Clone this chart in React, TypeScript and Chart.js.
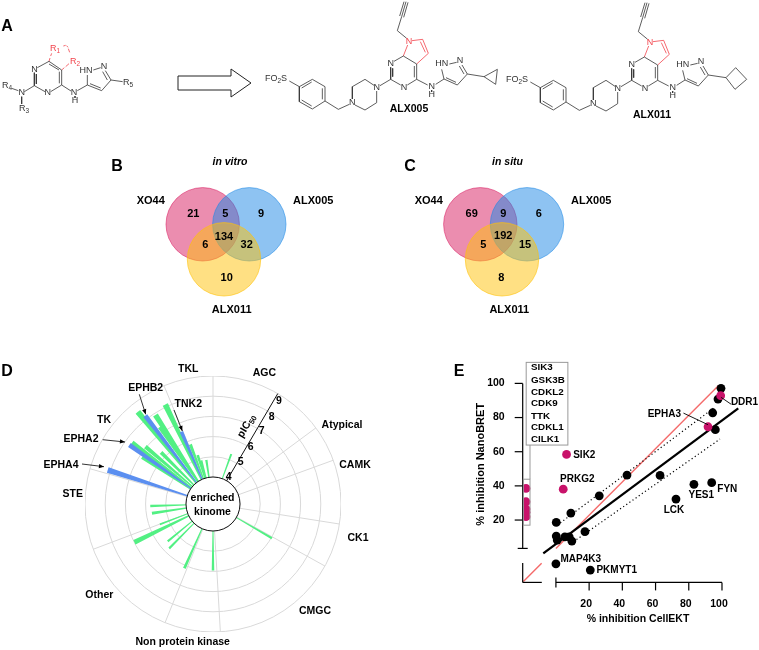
import React, { useEffect, useRef } from "react";
import { Chart, registerables } from "chart.js";
Chart.register(...registerables);

const FONT = '"Liberation Sans", Arial, sans-serif';

// ---------- Panel B / C data
const vennSets = ["XO44", "ALX005", "ALX011"];
const vitroCounts = [21, 5, 9, 134, 6, 32, 10];
const situCounts = [69, 9, 6, 192, 5, 15, 8];

// ---------- Panel D data (angle clockwise from north, pIC50, kind)
const kinomeGroups = ["TKL", "AGC", "Atypical", "CAMK", "CK1", "CMGC", "Non protein kinase", "Other", "STE", "TK"];
const barAngle = [20.1, 120.2, 180, 204, 224.6, 230.5, 244, 249.1, 261.3, 268.2, 287.9, 303.3, 305.2, 307.1, 310.3, 314.8, 320.8, 322.5, 325.7, 327.1, 334.4, 336.4, 339.2, 342.6, 344.8, 351.4];
const barPic50 = [5.3, 6.04, 5.96, 6.15, 5.75, 5.57, 6.99, 5.48, 5.72, 5.77, 8.14, 6.87, 7.73, 7.69, 7.05, 6.29, 8.55, 8.17, 7.3, 7.91, 8.13, 6.57, 5.82, 5.2, 4.9, 4.87];
const barBlue = [0, 0, 0, 0, 0, 0, 0, 0, 0, 0, 1, 0, 1, 0, 0, 0, 0, 1, 0, 0, 0, 1, 0, 0, 0, 0];
const barWidth = [2.2, 1.9, 2.2, 2.3, 2.1, 2.1, 3.3, 1.9, 2.8, 2.4, 3.0, 2.3, 2.6, 2.8, 2.7, 3.0, 2.8, 2.5, 3.2, 3.0, 3.0, 2.6, 2.8, 3.0, 3.0, 3.0];
const groupEdges = [0, 53.5, 70, 99, 119, 176.7, 202, 249.3, 286, 337.5];
const pic50Ticks = [4, 5, 6, 7, 8, 9];

// ---------- Panel E data
const blackCellEKT = [0.2, 9, 26.1, 42.8, 62.7, 17.5, 0.2, 0.8, 5.4, 8, 9.6, 72.3, 83.1, 93.8, 96, 94.4, 97.6, 99.4, 0, 20.7];
const blackNanoBRET = [18.6, 24.1, 34.2, 46.3, 46.1, 13.2, 10.6, 8.3, 10.2, 10.2, 7.7, 32.3, 40.9, 41.9, 72.9, 82.8, 90.8, 97.1, -5.6, -9.3];
const pinkCellEKT = [6.4, 4.4, 91.6, 99.2, -18, -18, -18, -18, -18];
const pinkNanoBRET = [58.4, 38.1, 74.6, 92.8, 38.5, 30.7, 26.4, 24.5, 22];
const boxedKinases = ["SIK3", "GSK3B", "CDKL2", "CDK9", "TTK", "CDKL1", "CILK1"];
const eTicks = [20, 40, 60, 80, 100];

type T = [string, number, number, string?, string?, CanvasTextAlign?, number?];

function drawRich(ctx: CanvasRenderingContext2D, s: string, x: number, y: number, font: string, color = "#000", align: CanvasTextAlign = "center", rot = 0) {
  const size = parseFloat(font.match(/([\d.]+)px/)![1]);
  const subFont = font.replace(/[\d.]+px/, size * 0.72 + "px");
  const parts = s.split("~");
  ctx.save();
  ctx.translate(x, y);
  ctx.rotate((rot * Math.PI) / 180);
  ctx.fillStyle = color;
  ctx.textBaseline = "middle";
  ctx.textAlign = "left";
  let w = 0;
  parts.forEach((p, i) => {
    ctx.font = i % 2 ? subFont : font;
    w += ctx.measureText(p).width;
  });
  let cx = align === "center" ? -w / 2 : align === "right" ? -w : 0;
  parts.forEach((p, i) => {
    ctx.font = i % 2 ? subFont : font;
    ctx.fillText(p, cx, i % 2 ? size * 0.28 : 0);
    cx += ctx.measureText(p).width;
  });
  ctx.restore();
}

const bold = (n: number) => `bold ${n}px ${FONT}`;
const reg = (n: number) => `${n}px ${FONT}`;

// ---------- molecule skeletons (drawing units = 1/3 px)
const coreBlack = [
  [430, 168, 402, 184], [392, 202, 392, 238], [398, 205, 398, 230], [392, 238, 422, 255], [442, 255, 470, 238],
  [470, 238, 470, 192], [463, 232, 463, 198], [470, 192, 430, 168], [440, 115, 412, 92], [412, 92, 425, 50],
  [425, 50, 438, 5], [419, 48, 432, 5], [431, 52, 444, 7], [470, 238, 503, 255], [527, 253, 552, 237], [515, 270, 515, 276],
  [552, 237, 545, 208], [568, 192, 590, 187], [606, 195, 622, 222], [598, 198, 612, 222], [622, 222, 592, 255],
  [592, 255, 552, 237], [588, 247, 558, 233], [392, 238, 360, 257], [342, 256, 315, 238], [315, 238, 277, 260],
  [277, 260, 277, 297], [285, 315, 315, 330], [315, 330, 350, 308], [350, 308, 350, 273], [268, 313, 235, 328],
  [235, 328, 195, 303], [195, 303, 195, 260], [187, 298, 187, 265], [195, 260, 157, 238], [157, 238, 118, 260],
  [155, 246, 125, 264], [118, 260, 118, 305], [118, 305, 157, 327], [125, 300, 155, 318], [157, 327, 195, 303],
  [118, 260, 88, 243],
];
const coreRed = [[430, 168, 443, 135], [456, 122, 488, 118], [488, 118, 505, 160], [481, 125, 496, 157], [505, 160, 470, 192]];
const cyclopropyl = [[622, 222, 672, 230], [672, 230, 712, 208], [712, 208, 707, 253], [707, 253, 672, 230]];
const cyclobutyl = [[622, 222, 675, 230], [675, 230, 704, 200], [704, 200, 737, 235], [737, 235, 702, 265], [702, 265, 675, 230]];
const schemeBlack = [
  [147, 124, 112, 143], [103, 158, 103, 197], [109, 162, 109, 192], [103, 197, 135, 215], [152, 215, 185, 195],
  [185, 195, 185, 150], [178, 190, 178, 155], [185, 150, 147, 124], [177, 150, 147, 132], [185, 195, 213, 213], [232, 212, 262, 195],
  [225, 228, 225, 234], [262, 195, 262, 165], [280, 150, 302, 143], [316, 152, 333, 180], [308, 155, 322, 180], [333, 180, 305, 212],
  [305, 212, 262, 195], [302, 204, 270, 191], [333, 180, 368, 185], [103, 197, 73, 215], [35, 205, 55, 212], [65, 230, 65, 252],
];
const schemeRed = [
  [147, 124, 150, 114], [152, 108, 155, 100], [190, 78, 197, 76], [200, 77, 204, 82], [205, 86, 209, 97], [185, 150, 193, 143], [197, 140, 207, 131],
];
const arrowOutline = [[178, 76], [231, 76], [231, 69], [251, 83], [231, 97], [231, 90], [178, 90], [178, 76]];

function toLine(segs: number[][], ox: number, oy: number) {
  const out: any[] = [];
  segs.forEach((s) => {
    out.push({ x: ox + s[0] / 3, y: oy + s[1] / 3 }, { x: ox + s[2] / 3, y: oy + s[3] / 3 }, { x: null, y: null });
  });
  return out;
}
function lineDs(data: any[], color: string, w = 0.8) {
  return { type: "scatter", showLine: true, data, borderColor: color, borderWidth: w, pointRadius: 0, spanGaps: false, order: 0 };
}

const INK = "#333";
const RED = "#f2444d";
const ATOM = 9;

const moleculeLabels = (ox: number, oy: number): T[] => [
  ["N", 392, 192], ["N", 432, 262], ["N", 350, 263], ["N", 277, 308], ["N", 515, 260], ["H", 515, 285], ["HN", 545, 192], ["N", 600, 183],
].map((a) => [a[0] as string, ox + (a[1] as number) / 3, oy + (a[2] as number) / 3, reg(ATOM), INK] as T);

const pageTexts: T[] = [
  ["A", 7, 27, bold(16)], ["B", 117, 167, bold(16)], ["C", 410, 167, bold(16)], ["D", 7, 372, bold(16)], ["E", 459, 372, bold(16)],
  ["ALX005", 409, 109, bold(10.5)], ["ALX011", 652, 115, bold(10.5)],
  ["FO~2~S", 265, 79, reg(ATOM), INK, "left"], ["FO~2~S", 506, 80, reg(ATOM), INK, "left"],
  ["N", 409, 42, reg(ATOM), RED], ["N", 650, 43, reg(ATOM), RED],
  ...moleculeLabels(260, 0), ...moleculeLabels(501, 1),
  ["N", 34.5, 70, reg(ATOM), INK], ["N", 47.7, 93, reg(ATOM), INK], ["N", 74, 92.7, reg(ATOM), INK], ["H", 75, 101, reg(ATOM), INK],
  ["HN", 86, 70.5, reg(ATOM), INK], ["N", 104, 66.7, reg(ATOM), INK], ["N", 21.7, 92.7, reg(ATOM), INK],
  ["R~4~", 7, 86, reg(ATOM), INK], ["R~3~", 24, 109, reg(ATOM), INK], ["R~5~", 128, 83, reg(ATOM), INK],
  ["R~1~", 55, 48.5, reg(ATOM), RED], ["R~2~", 75, 62, reg(ATOM), RED],
  ["in vitro", 230, 162.5, `italic bold 10.5px ${FONT}`], ["in situ", 507.5, 162.5, `italic bold 10.5px ${FONT}`],
  [vennSets[0], 150.7, 201, bold(11)], [vennSets[1], 313.3, 201, bold(11)], [vennSets[2], 231.7, 310, bold(11)],
  [vennSets[0], 428.7, 201, bold(11)], [vennSets[1], 591.3, 201, bold(11)], [vennSets[2], 509.3, 310, bold(11)],
  ["TKL", 188.3, 369, bold(10.5)], ["AGC", 264.3, 372.7, bold(10.5)], ["Atypical", 342, 425, bold(10.5)], ["CAMK", 355, 465, bold(10.5)],
  ["CK1", 358, 538, bold(10.5)], ["CMGC", 315, 611.5, bold(10.5)], [kinomeGroups[6], 182.7, 642.3, bold(10.5)], ["Other", 99.3, 595, bold(10.5)],
  ["STE", 72.7, 494.3, bold(10.5)], ["TK", 104, 420, bold(10.5)], ["EPHB2", 145.7, 387.7, bold(10.5)], ["TNK2", 188.3, 404.3, bold(10.5)],
  ["EPHA2", 81, 439, bold(10.5)], ["EPHA4", 61, 464.7, bold(10.5)],
  ["enriched", 212.5, 498.3, bold(10.5)], ["kinome", 212.5, 511.7, bold(10.5)],
  ["pIC~50~", 246.5, 426, bold(10.5), "#000", "center", -59.6],
  ["4", 228.7, 476.7, bold(10.5)], ["5", 240.7, 461.7, bold(10.5)], ["6", 250.7, 446.7, bold(10.5)], ["7", 261.7, 431, bold(10.5)], ["8", 271.7, 416.7, bold(10.5)], ["9", 279, 401, bold(10.5)],
  ["SIK2", 584.3, 455, bold(10)], ["PRKG2", 577.3, 479.7, bold(10)], ["EPHA3", 664.3, 414, bold(10)], ["DDR1", 744.5, 402, bold(10)],
  ["LCK", 674, 510.7, bold(10)], ["YES1", 701.3, 495.7, bold(10)], ["FYN", 727.3, 489, bold(10)], ["MAP4K3", 580.7, 559, bold(10)], ["PKMYT1", 616.7, 570, bold(10)],
  ["% inhibition NanoBRET", 480.7, 464.3, bold(11), "#000", "center", -90], ["% inhibition CellEKT", 638, 619, bold(10.5)],
];
const vennCountPosB = [[193.3, 214], [225.3, 214], [261, 214], [224, 236.7], [205.3, 245], [246.7, 245], [226.7, 277.7]];
const vennCountPosC = [[471.7, 214], [503.3, 214], [538.7, 214], [503.3, 236], [483.3, 245], [525, 245], [501.3, 277.7]];
const boxLineY = [367.7, 380, 392, 403.7, 416, 427.7, 439.7];
const arrows = [[139.3, 394.3, 145.7, 414.3], [174, 410, 182.3, 431], [102.7, 439.7, 125, 442], [82, 464, 104, 466.7]];

const pagePlugin = {
  id: "pageText",
  afterDatasetsDraw(chart: any) {
    const ctx: CanvasRenderingContext2D = chart.ctx;
    const X = (v: number) => chart.scales.x.getPixelForValue(v);
    const Y = (v: number) => chart.scales.y.getPixelForValue(v);
    pageTexts.forEach((t) => drawRich(ctx, t[0], X(t[1]), Y(t[2]), t[3] || bold(11), t[4] || "#000", t[5] || "center", t[6] || 0));
    vitroCounts.forEach((c, i) => drawRich(ctx, String(c), X(vennCountPosB[i][0]), Y(vennCountPosB[i][1]), bold(11)));
    situCounts.forEach((c, i) => drawRich(ctx, String(c), X(vennCountPosC[i][0]), Y(vennCountPosC[i][1]), bold(11)));
    boxedKinases.forEach((k, i) => drawRich(ctx, k, X(531), Y(boxLineY[i]), bold(9.8), "#000", "left"));
    ctx.strokeStyle = "#000";
    ctx.fillStyle = "#000";
    ctx.lineWidth = 0.8;
    arrows.forEach((a) => {
      const [x1, y1, x2, y2] = [X(a[0]), Y(a[1]), X(a[2]), Y(a[3])];
      const th = Math.atan2(y2 - y1, x2 - x1);
      ctx.beginPath();
      ctx.moveTo(x1, y1);
      ctx.lineTo(x2, y2);
      ctx.stroke();
      ctx.beginPath();
      ctx.moveTo(x2, y2);
      ctx.lineTo(x2 - 5.5 * Math.cos(th - 0.4), y2 - 5.5 * Math.sin(th - 0.4));
      ctx.lineTo(x2 - 5.5 * Math.cos(th + 0.4), y2 - 5.5 * Math.sin(th + 0.4));
      ctx.closePath();
      ctx.fill();
    });
  },
};

const kinomePlugin = {
  id: "kinomeDeco",
  beforeDatasetsDraw(chart: any) {
    const r = chart.scales.r;
    const ctx = chart.ctx;
    ctx.save();
    ctx.strokeStyle = "#d9d9d9";
    ctx.lineWidth = 1;
    groupEdges.forEach((a) => {
      const t = (a * Math.PI) / 180;
      const R = r.getDistanceFromCenterForValue(9);
      ctx.beginPath();
      ctx.moveTo(r.xCenter, r.yCenter);
      ctx.lineTo(r.xCenter + R * Math.sin(t), r.yCenter - R * Math.cos(t));
      ctx.stroke();
    });
    ctx.restore();
  },
  afterDatasetsDraw(chart: any) {
    const r = chart.scales.r;
    const ctx = chart.ctx;
    const R0 = r.getDistanceFromCenterForValue(4);
    const R9 = r.getDistanceFromCenterForValue(9);
    const t = (30.4 * Math.PI) / 180;
    ctx.save();
    ctx.beginPath();
    ctx.arc(r.xCenter, r.yCenter, R0, 0, Math.PI * 2);
    ctx.fillStyle = "#fff";
    ctx.fill();
    ctx.strokeStyle = "#111";
    ctx.lineWidth = 1;
    ctx.stroke();
    ctx.beginPath();
    ctx.moveTo(r.xCenter + R0 * Math.sin(t), r.yCenter - R0 * Math.cos(t));
    ctx.lineTo(r.xCenter + R9 * Math.sin(t), r.yCenter - R9 * Math.cos(t));
    ctx.stroke();
    ctx.restore();
  },
};

const axesPlugin = {
  id: "brokenAxes",
  afterDatasetsDraw(chart: any) {
    const X = (v: number) => chart.scales.x.getPixelForValue(v);
    const Y = (v: number) => chart.scales.y.getPixelForValue(v);
    const ctx: CanvasRenderingContext2D = chart.ctx;
    const seg = (x1: number, y1: number, x2: number, y2: number) => {
      ctx.beginPath();
      ctx.moveTo(x1, y1);
      ctx.lineTo(x2, y2);
      ctx.stroke();
    };
    ctx.save();
    ctx.strokeStyle = "#000";
    ctx.lineWidth = 1.2;
    const ax = X(-20);
    const base = Y(-16.5);
    seg(ax, Y(100), ax, Y(3.4));
    seg(ax, Y(-5.2), ax, base);
    seg(ax, base, X(-8.5), base);
    seg(X(0), base, X(100), base);
    eTicks.forEach((v) => {
      seg(ax - 8, Y(v), ax, Y(v));
      seg(X(v), base, X(v), base + 8);
    });
    seg(ax - 5, Y(3.4), ax + 5, Y(3.4));
    seg(X(0), base - 5, X(0), base + 5);
    ctx.strokeStyle = "#999";
    ctx.lineWidth = 1;
    ctx.strokeRect(X(-17.9), Y(112.3), X(7.2) - X(-17.9), Y(63.9) - Y(112.3));
    ctx.strokeRect(X(-19.6), Y(43.9), X(-15.6) - X(-19.6), Y(17) - Y(43.9));
    seg(X(-15.6), Y(63.9), X(-15.6), Y(43.9));
    ctx.strokeStyle = "#000";
    ctx.lineWidth = 0.9;
    seg(X(76.8), Y(82.6), X(91.6), Y(75.8));
    seg(X(99.5), Y(91.8), X(105.5), Y(87.8));
    ctx.restore();
  },
};

export default function App() {
  const pageRef = useRef<HTMLCanvasElement>(null);
  const kinomeRef = useRef<HTMLCanvasElement>(null);
  const corrRef = useRef<HTMLCanvasElement>(null);

  useEffect(() => {
    const base: any = { responsive: false, animation: false, devicePixelRatio: 1, events: [], plugins: { legend: { display: false }, tooltip: { enabled: false } } };

    // ---- page-wide drawing: structures and Venn diagrams
    const bubble = (cx: number, cy: number, fill: string, edge: string, order: number) => ({
      type: "bubble",
      data: [{ x: cx, y: cy, r: 36.7 }],
      backgroundColor: fill,
      borderColor: edge,
      borderWidth: 1,
      order,
    });
    const PINK = "rgba(216,27,96,0.5)", PINKE = "rgba(216,27,96,0.55)";
    const BLUE = "rgba(30,136,229,0.5)", BLUEE = "rgba(30,136,229,0.55)";
    const YEL = "rgba(255,193,7,0.5)", YELE = "rgba(255,193,7,0.6)";
    const page = new Chart(pageRef.current!, {
      type: "bubble",
      data: {
        datasets: [
          bubble(202.7, 224.3, PINK, PINKE, 3), bubble(249.3, 224.3, BLUE, BLUEE, 2), bubble(224, 259.3, YEL, YELE, 1),
          bubble(480.3, 224.3, PINK, PINKE, 3), bubble(527, 224.3, BLUE, BLUEE, 2), bubble(502, 259.3, YEL, YELE, 1),
          lineDs(toLine(coreBlack.concat(cyclopropyl), 260, 0), INK),
          lineDs(toLine(coreRed, 260, 0), RED),
          lineDs(toLine(coreBlack.concat(cyclobutyl), 501, 1), INK),
          lineDs(toLine(coreRed, 501, 1), RED),
          lineDs(toLine(schemeBlack, 0, 20), INK),
          lineDs(toLine(schemeRed, 0, 20), RED),
          lineDs(arrowOutline.map((p) => ({ x: p[0], y: p[1] })), "#222", 1),
        ] as any,
      },
      options: {
        ...base,
        layout: { padding: 0, autoPadding: false },
        scales: {
          x: { type: "linear", min: 0, max: 759, display: false },
          y: { type: "linear", min: 0, max: 650, reverse: true, display: false },
        },
      },
      plugins: [pagePlugin],
    } as any);

    // ---- Panel D: polar area with per-slice angles; overlapping bars go in separate layers
    const MIN = 2.663;
    const layer = (members: number[], color: string) => {
      const vals: number[] = [], angs: number[] = [], cols: string[] = [];
      let prevEnd = 0;
      members.forEach((i) => {
        const start = Math.max(barAngle[i] - barWidth[i] / 2, prevEnd);
        const end = barAngle[i] + barWidth[i] / 2;
        if (start > prevEnd) {
          vals.push(MIN);
          cols.push("rgba(0,0,0,0)");
          angs.push(start - prevEnd);
        }
        vals.push(barPic50[i]);
        cols.push(color);
        angs.push(end - start);
        prevEnd = end;
      });
      vals.push(MIN);
      cols.push("rgba(0,0,0,0)");
      angs.push(360 - prevEnd);
      return { data: vals, backgroundColor: cols, borderWidth: 0, angle: angs };
    };
    const order = barAngle.map((_, i) => i).sort((a, b) => barAngle[a] - barAngle[b]);
    const blues = order.filter((i) => barBlue[i]);
    const greens = order.filter((i) => !barBlue[i]);
    const datasets = [
      layer(blues, "#5b8ff0"),
      layer(greens.filter((_, k) => k % 2 === 0), "#52f083"),
      layer(greens.filter((_, k) => k % 2 === 1), "#52f083"),
    ];
    const kinome = new Chart(kinomeRef.current!, {
      type: "polarArea",
      data: { labels: Array.from({ length: 60 }, (_, i) => String(i)), datasets: datasets as any },
      options: {
        ...base,
        layout: { padding: 0, autoPadding: false },
        scales: {
          r: {
            min: MIN,
            max: 9,
            ticks: { display: false },
            angleLines: { display: false },
            pointLabels: { display: false },
            grid: { circular: true, color: "#d9d9d9", lineWidth: 1 },
            afterBuildTicks: (s: any) => {
              s.ticks = [MIN, ...pic50Ticks].map((value) => ({ value }));
            },
          },
        },
      },
      plugins: [kinomePlugin],
    } as any);

    // ---- Panel E
    const toPts = (xs: number[], ys: number[]) => xs.map((x, i) => ({ x, y: ys[i] }));
    const line = (pts: number[][], color: string, w: number, dash: number[] = [], order = 5) => ({
      type: "scatter", showLine: true, data: pts.map((p) => ({ x: p[0], y: p[1] })), borderColor: color, borderWidth: w, borderDash: dash, pointRadius: 0, order,
    });
    const corr = new Chart(corrRef.current!, {
      type: "scatter",
      data: {
        datasets: [
          { data: toPts(pinkCellEKT, pinkNanoBRET), backgroundColor: "#c8126a", borderWidth: 0, pointRadius: 4.4, order: 1 },
          { data: toPts(blackCellEKT, blackNanoBRET), backgroundColor: "#000", borderWidth: 0, pointRadius: 4.4, order: 2 },
          line([[-7.6, 0.5], [109.8, 85.4]], "#000", 2.3),
          line([[0.8, 17], [94.8, 85.4]], "#000", 1.2, [1.2, 2.6]),
          line([[10.5, 7.3], [98.8, 67.4]], "#000", 1.2, [1.2, 2.6]),
          line([[0, 3.4], [97.8, 98.6]], "#f46a6a", 1.4, [], 6),
          line([[-19.6, -16], [-8.6, -5.3]], "#f46a6a", 1.4, [], 6),
        ] as any,
      },
      options: {
        ...base,
        layout: { padding: { top: 11.3, right: 3.8, left: 0, bottom: 0 }, autoPadding: false },
        scales: {
          x: {
            type: "linear", min: -20, max: 120,
            grid: { display: false, drawTicks: false }, border: { display: false },
            afterBuildTicks: (s: any) => { s.ticks = eTicks.map((value) => ({ value })); },
            afterFit: (s: any) => { s.height = 52.6; s.paddingLeft = 0; s.paddingRight = 0; },
            ticks: { autoSkip: false, maxRotation: 0, padding: 15, labelOffset: -3, color: "#000", font: { family: FONT, size: 10.5, weight: "bold" } },
          },
          y: {
            type: "linear", min: -16.5, max: 110,
            grid: { display: false, drawTicks: false }, border: { display: false },
            afterBuildTicks: (s: any) => { s.ticks = eTicks.map((value) => ({ value })); },
            afterFit: (s: any) => { s.width = 52.7; s.paddingTop = 0; s.paddingBottom = 0; },
            ticks: { autoSkip: false, padding: 18, color: "#000", font: { family: FONT, size: 10.5, weight: "bold" } },
          },
        },
      },
      plugins: [axesPlugin],
    } as any);

    return () => {
      page.destroy();
      kinome.destroy();
      corr.destroy();
    };
  }, []);

  const abs = (l: number, t: number): React.CSSProperties => ({ position: "absolute", left: l, top: t, display: "block" });
  return (
    <div style={{ position: "absolute", left: 0, top: 0, width: 759, height: 650, overflow: "hidden", background: "#fff" }}>
      <canvas ref={kinomeRef} width={256} height={256} style={{ ...abs(85, 376), width: 256, height: 256 }} />
      <canvas ref={corrRef} width={289} height={280} style={{ ...abs(470, 355), width: 289, height: 280 }} />
      <canvas ref={pageRef} width={759} height={650} style={{ ...abs(0, 0), width: 759, height: 650 }} />
    </div>
  );
}
